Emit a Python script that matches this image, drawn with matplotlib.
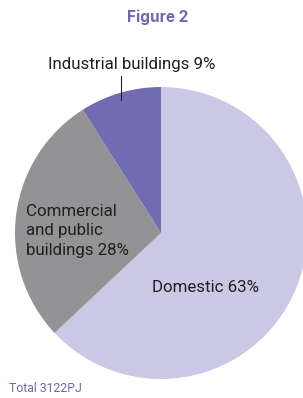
import matplotlib
matplotlib.use("Agg")
import matplotlib.pyplot as plt

labels = ["Domestic 63%", "Commercial\nand public\nbuildings 28%", "Industrial buildings 9%"]
shares = [63, 28, 9]
colors = ["#CBC8E6", "#939395", "#716CB2"]
title = "Figure 2"
total_note = "Total 3122PJ"

plt.rcParams["font.family"] = ["Roboto", "DejaVu Sans"]
TEXT = "#231F20"
PURPLE = "#7065B8"

W, H = 303, 398
fig = plt.figure(figsize=(W / 100, H / 100), dpi=100)

# pie centre (161, 233) px, radius 146 px
cx, cy, r = 161, 233, 146
ax = fig.add_axes([(cx - r) / W, (H - cy - r) / H, 2 * r / W, 2 * r / H])
ax.pie(shares, colors=colors, startangle=90, counterclock=False, radius=1,
       wedgeprops=dict(linewidth=0))
ax.set_xlim(-1, 1)
ax.set_ylim(-1, 1)
ax.set_aspect("equal")
ax.axis("off")


def px(x, y):
    return x / W, 1 - y / H


fig.text(*px(158, 17), title, ha="center", va="center", fontsize=11,
         fontweight="bold", color=PURPLE, family=["Inter", "DejaVu Sans"])
fig.text(*px(48, 65), labels[2], ha="left", va="center", fontsize=12.2,
         color=TEXT)
fig.lines.append(plt.Line2D([120.5 / W, 120.5 / W], [1 - 76 / H, 1 - 100 / H],
                            color=TEXT, linewidth=0.8, transform=fig.transFigure))
fig.text(*px(26, 231), labels[1], ha="left", va="center", fontsize=12.2,
         color=TEXT, linespacing=1.4)
fig.text(*px(152, 288), labels[0], ha="left", va="center", fontsize=12.2,
         color=TEXT)
fig.text(*px(9, 389), total_note, ha="left", va="center", fontsize=8.8,
         color=PURPLE)

fig.savefig("out.png", dpi=100)
